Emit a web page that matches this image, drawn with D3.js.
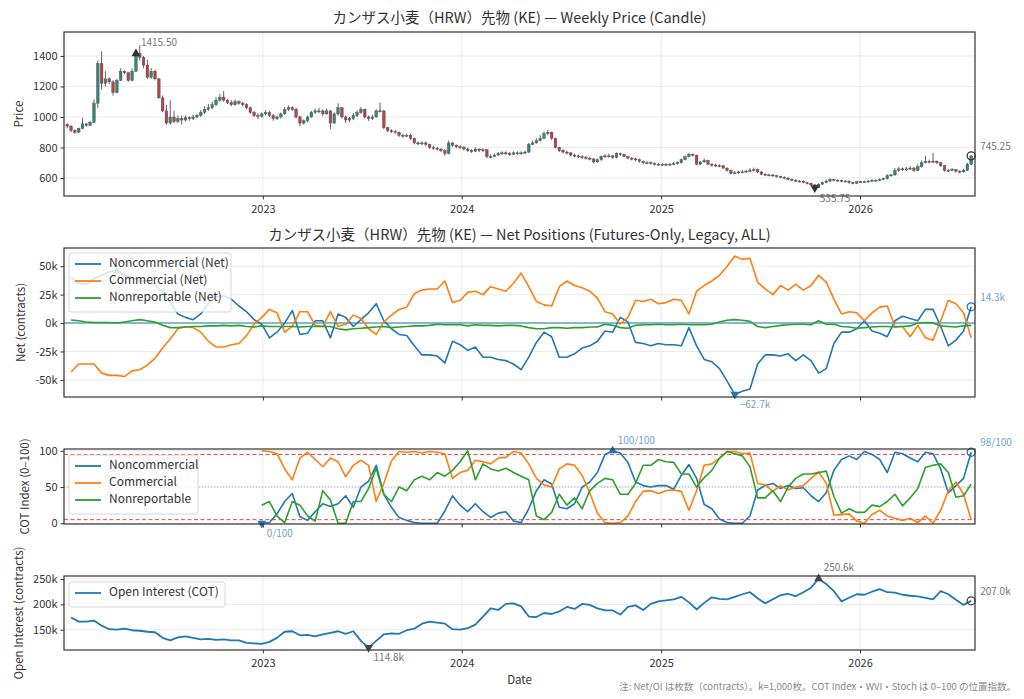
<!DOCTYPE html>
<html>
<head>
<meta charset="utf-8">
<script src="https://cdn.jsdelivr.net/npm/d3@7"></script>
<style>
  body { margin: 0; background: #fff; }
  svg text { font-family: "Noto Sans CJK JP", "Noto Sans", sans-serif; }
</style>
</head>
<body>
<svg id="chart" width="1024" height="699"></svg>
<script>
// weekly dates (COT week), 238 weeks from Jan 2022
const weekStart = new Date(2022, 0, 7);
const weekDates = d3.range(238).map(i => d3.timeDay.offset(weekStart, 7 * i));
// positions/OI read every second week
const cotDates = d3.range(1, 238, 2).map(i => weekDates[i]);
// COT index needs a year of history, starts Jan 2023
const idxDates = cotDates.slice(25);
const yearTicks = [2023, 2024, 2025, 2026].map(y => new Date(y, 0, 1));

const firstOpen = 950;
const closes = [
  940, 912, 900, 925, 955, 945, 965, 1090, 1350, 1220,
  1250, 1230, 1160, 1240, 1300, 1290, 1240, 1300, 1415.5, 1390,
  1340, 1260, 1300, 1250, 1125, 1040, 960, 1000, 970, 990,
  980, 995, 990, 1000, 1010, 1030, 1050, 1060, 1080, 1110,
  1130, 1110, 1095, 1080, 1100, 1090, 1080, 1060, 1030, 1010,
  1005, 1020, 1030, 1010, 990, 1000, 1020, 1050, 1060, 1050,
  1000, 960, 975, 1000, 1030, 1040, 1040, 1020, 1040, 960,
  1020, 1060, 1000, 980, 990, 1010, 1030, 1050, 1000, 990,
  1000, 1040, 1040, 930, 910, 905, 900, 880, 875, 880,
  860, 830, 825, 830, 820, 800, 795, 790, 780, 760,
  830, 815, 805, 800, 790, 780, 775, 790, 780, 785,
  740, 740, 750, 760, 765, 760, 755, 765, 760, 765,
  770, 820, 830, 845, 860, 890, 900, 860, 800, 780,
  770, 765, 750, 745, 740, 735, 730, 725, 705, 720,
  740, 745, 745, 735, 760, 755, 740, 730, 725, 720,
  710, 700, 700, 695, 690, 690, 685, 690, 690, 695,
  700, 720, 740, 755, 750, 690, 705, 715, 690, 685,
  680, 680, 665, 650, 630, 635, 640, 640, 645, 650,
  655, 640, 625, 620, 620, 615, 610, 605, 600, 590,
  585, 580, 580, 570, 565, 555, 535.75, 560, 570, 580,
  590, 585, 585, 580, 580, 570, 565, 575, 575, 575,
  580, 585, 585, 590, 595, 615, 620, 650, 660, 655,
  660, 665, 650, 675, 700, 710, 705, 710, 700, 680,
  650, 650, 655, 645, 640, 650, 690, 745.25
];
const highs = [
  960, 945, 920, 930, 995, 960, 975, 1115, 1370, 1430,
  1300, 1260, 1240, 1250, 1320, 1305, 1295, 1320, 1425, 1470,
  1400, 1375, 1320, 1310, 1255, 1140, 1080, 1110, 1040, 1010,
  1010, 1010, 1005, 1015, 1020, 1045, 1070, 1085, 1100, 1130,
  1150, 1170, 1120, 1110, 1115, 1110, 1100, 1090, 1070, 1040,
  1025, 1030, 1045, 1040, 1020, 1010, 1030, 1065, 1075, 1070,
  1060, 1010, 985, 1010, 1040, 1055, 1060, 1050, 1055, 1045,
  1030, 1090, 1065, 1010, 1000, 1025, 1045, 1065, 1055, 1010,
  1015, 1050, 1095, 1045, 935, 920, 915, 905, 890, 890,
  890, 865, 840, 840, 840, 825, 810, 805, 795, 790,
  845, 835, 820, 815, 810, 800, 790, 800, 795, 795,
  790, 755, 760, 770, 775, 775, 770, 775, 775, 775,
  780, 830, 845, 860, 880, 905, 915, 905, 865, 805,
  790, 780, 770, 760, 755, 750, 745, 740, 730, 728,
  748, 755, 760, 752, 768, 765, 760, 745, 738, 732,
  728, 715, 710, 708, 702, 700, 698, 700, 700, 705,
  708, 728, 748, 765, 762, 752, 712, 728, 720, 698,
  695, 690, 685, 670, 655, 645, 648, 650, 655, 665,
  668, 662, 645, 630, 628, 625, 620, 615, 612, 605,
  597, 592, 588, 585, 575, 570, 560, 565, 575, 590,
  598, 595, 592, 590, 588, 585, 575, 580, 582, 582,
  588, 592, 592, 598, 602, 625, 628, 665, 672, 668,
  672, 678, 672, 690, 715, 745, 720, 765, 715, 705,
  685, 660, 665, 660, 650, 660, 700, 752
];
const lows = [
  925, 900, 890, 895, 920, 935, 940, 960, 1060, 1180,
  1200, 1215, 1140, 1155, 1235, 1280, 1230, 1235, 1295, 1370,
  1320, 1250, 1250, 1240, 1120, 1030, 950, 950, 960, 960,
  950, 970, 975, 980, 990, 1000, 1020, 1040, 1050, 1070,
  1100, 1100, 1085, 1070, 1075, 1080, 1070, 1050, 1020, 1000,
  985, 995, 1010, 1000, 975, 980, 990, 1015, 1040, 1040,
  990, 940, 950, 965, 995, 1020, 1025, 1005, 1015, 920,
  955, 1010, 990, 960, 965, 980, 1000, 1020, 990, 975,
  980, 995, 1030, 920, 900, 895, 890, 870, 865, 868,
  850, 820, 815, 815, 810, 790, 785, 780, 770, 745,
  755, 805, 795, 790, 780, 770, 765, 770, 770, 770,
  730, 730, 735, 745, 750, 750, 745, 750, 750, 752,
  755, 765, 815, 825, 840, 855, 880, 850, 795, 770,
  762, 755, 740, 735, 730, 725, 720, 715, 695, 700,
  712, 732, 735, 725, 730, 745, 735, 722, 715, 710,
  700, 690, 690, 688, 682, 680, 678, 678, 682, 684,
  688, 695, 715, 735, 740, 685, 685, 700, 685, 675,
  672, 670, 660, 642, 622, 625, 628, 632, 635, 640,
  645, 632, 618, 612, 612, 608, 603, 598, 592, 585,
  578, 574, 572, 565, 558, 548, 530, 535, 555, 565,
  575, 578, 578, 572, 572, 562, 558, 560, 568, 568,
  570, 575, 578, 580, 585, 590, 610, 615, 640, 645,
  645, 652, 640, 645, 668, 695, 695, 700, 690, 672,
  642, 640, 645, 635, 630, 635, 645, 685
];

// net positions, thousands of contracts
const netNoncomm = [
  40, 35, 34, 39, 42, 45, 46, 42, 40, 37,
  37, 34, 27, 18, 8, 5, 3, 8, 17, 23,
  24, 21, 15, 10, 3, -1, -13, -8, 0, 11,
  -10, -9, 2, 2, -13, 8, 5, -3, 3, 9,
  17, 2, -5, -10, -11, -20, -28, -28, -29, -35,
  -16, -19, -24, -21, -30, -30, -32, -33, -36, -41,
  -30, -17, -8, -12, -30, -30, -27, -22, -20, -16,
  -7, -8, 5, 1, -17, -18, -20, -18, -19, -19,
  -20, -4, -20, -32, -34, -40, -51, -62.7, -60, -58,
  -36, -28, -28, -29, -27, -33, -28, -33, -44, -40,
  -18, -8, -8, -5, 2, -7, -9, -12, 2, 6,
  4, 2, 12, 12, -3, -20, -15, -7, 14.3
];
const netComm = [
  -43, -36, -36, -36, -44, -46, -46, -47, -42, -41,
  -37, -31, -22, -14, -5, -3, -4, -8, -16, -21,
  -21, -19, -18, -11, -1, 5, 12, 9, -8, -3,
  10, 10, -2, -3, 10, -3, -1, 7, 4, -5,
  -10, 1, 7, 12, 14, 26, 29, 30, 30, 37,
  18, 20, 27, 28, 25, 32, 30, 28, 35, 44,
  32, 19, 16, 15, 32, 37, 33, 31, 28, 22,
  10, 8, -1, 5, 20, 19, 21, 17, 18, 21,
  20, 8, 28, 33, 37, 42, 50, 59, 56, 57,
  36, 30, 25, 33, 29, 34, 29, 33, 42, 36,
  21, 8, 10, 9, 2, 9, 14, 15, -3, -3,
  -12, -2, -13, -15, 2, 20, 17, 9, -13
];
const netNonrep = [
  2.7, 2, 1, 0.5, 0.5, 0.5, 0, 1, 2, 3,
  2, 1, -2, -4, -4, -3.5, -3, -3, -2.5, -2.5,
  -2, -2.5, -2, -3, -3.5, -2.5, -3, -3, -3, -3,
  -3.5, -3, -3, -3, -3, -5, -6, -5, -4.5, -4,
  -3.5, -3, -4, -3.5, -3, -2.5, -2.5, -2, -1, -1.5,
  -1.5, -1.5, -2.5, -1.5, -2, -2, -2.5, -2, -2, -2.5,
  -4, -5, -5, -4, -4, -4.5, -4, -4, -3.5, -3.5,
  -1, -2, -4, -4.5, -2, -1.5, -1.5, -1, -1.5, -1.5,
  -1, -1.5, -1.5, -1.5, -1, 1, 2.5, 3, 2.5, 1.5,
  -3, -4, -3, -2, -1.5, -1, -1, -1.5, 2, -1,
  -1, -3, -3.5, -4.5, -4, -3.5, -3, -3, -3.5, -3,
  -2.5, 0, 0.5, 0, -2.5, -3, -3.5, -2.5, -2
];

// COT index 0-100 (from Jan 2023)
const idxNoncomm = [
  0, 1, 13, 30, 41, 9, 4, 16, 27, 23,
  27, 38, 22, 50, 58, 80, 40, 22, 8, 4,
  1, 0, 0, 0, 17, 38, 25, 16, 27, 16,
  8, 14, 16, 3, 1, 20, 45, 60, 54, 22,
  20, 27, 50, 57, 70, 95, 100, 97, 84, 57,
  52, 50, 52, 52, 47, 66, 81, 62, 26, 20,
  6, 1, 0, 0, 10, 46, 52, 55, 48, 52,
  48, 49, 38, 30, 42, 73, 88, 93, 88, 99,
  95, 88, 70, 98, 96, 90, 85, 98, 96, 75,
  42, 52, 62, 98
];
const idxComm = [
  100, 99, 96, 75, 60, 90, 98, 88, 78, 90,
  85, 64, 80, 87, 80, 30, 55, 86, 99, 98,
  99, 97, 99, 98, 96, 62, 70, 73, 87, 85,
  82, 90, 91, 99, 97, 82, 62, 53, 50, 75,
  82, 80, 66, 42, 14, 1, 0, 1, 10, 30,
  44, 45, 41, 45, 46, 44, 18, 45, 80, 82,
  90, 99, 99, 96, 97, 55, 53, 44, 52, 46,
  50, 52, 62, 71, 55, 11, 12, 13, 3, 0,
  12, 18, 10, 7, 4, 7, 1, 10, 0, 18,
  45, 57, 40, 5
];
const idxNonrep = [
  25, 30, 10, 1, 30, 25, 10, 3, 45, 32,
  0, 0, 30, 30, 48, 76, 40, 30, 50, 45,
  60, 65, 60, 70, 65, 73, 85, 100, 60, 82,
  75, 72, 76, 70, 65, 60, 10, 5, 15, 40,
  25, 35, 20, 45, 55, 62, 60, 40, 40, 55,
  80, 80, 88, 85, 84, 68, 68, 50, 63, 73,
  90, 99, 96, 93, 78, 35, 35, 45, 30, 50,
  62, 68, 68, 70, 72, 37, 14, 20, 15, 15,
  25, 23, 30, 40, 24, 35, 48, 77, 80, 82,
  70, 36, 38, 54
];

// open interest, thousands of contracts
const openInterest = [
  174, 166, 166, 168, 158, 151, 150, 152, 149, 148,
  146, 145, 134, 129, 135, 137, 134, 131, 132, 130,
  131, 129, 129, 124, 123, 122, 126, 134, 146, 147,
  139, 140, 137, 141, 144, 147, 142, 147, 128, 114.8,
  128, 141, 143, 142, 149, 152, 162, 166, 164, 162,
  151, 150, 153, 160, 176, 192, 189, 201, 202, 196,
  176, 175, 183, 181, 186, 195, 191, 201, 199, 192,
  188, 188, 180, 195, 198, 189, 201, 206, 208, 210,
  215, 204, 190, 203, 214, 211, 210, 215, 220, 224,
  212, 202, 210, 218, 221, 216, 224, 233, 250.6, 240,
  226, 206, 213, 220, 219, 225, 230, 224, 223, 219,
  217, 216, 213, 210, 226, 220, 209, 199, 207
];

const C = { blue: "#1f77b4", orange: "#ff7f0e", green: "#2ca02c",
            up: "#33857a", down: "#b24641", dark: "#333", grid: "#e6e6e6" };

const svg = d3.select("#chart");
const left = 64, right = 975;

const x = d3.scaleTime()
    .domain([new Date(2022, 0, 1), new Date(2026, 6, 31)])
    .range([left, right]);

function panel(top, bottom, yDomain, yTicks, fmt, xLabels) {
    const y = d3.scaleLinear().domain(yDomain).range([bottom, top]);
    const g = svg.append("g");

    g.append("g").selectAll("line").data(yTicks).join("line")
        .attr("x1", left).attr("x2", right)
        .attr("y1", d => y(d)).attr("y2", d => y(d))
        .attr("stroke", C.grid).attr("stroke-width", 0.8);
    g.append("g").selectAll("line").data(yearTicks).join("line")
        .attr("x1", d => x(d)).attr("x2", d => x(d))
        .attr("y1", top).attr("y2", bottom)
        .attr("stroke", C.grid).attr("stroke-width", 0.8);

    const ya = g.append("g")
        .attr("transform", "translate(" + left + ",0)")
        .call(d3.axisLeft(y).tickValues(yTicks).tickFormat(fmt).tickSize(3.5).tickPadding(3));
    const xa = g.append("g")
        .attr("transform", "translate(0," + bottom + ")")
        .call(d3.axisBottom(x).tickValues(yearTicks)
            .tickFormat(xLabels ? d3.timeFormat("%Y") : "").tickSize(3.5).tickPadding(6));
    [ya, xa].forEach(a => {
        a.select(".domain").remove();
        a.selectAll("line").attr("stroke", C.dark);
        a.selectAll("text").attr("fill", "#333").attr("font-size", 11);
    });

    const plot = svg.append("g");
    return { y, g, plot, top, bottom };
}

function frame(p) {
    svg.append("rect")
        .attr("x", left).attr("y", p.top)
        .attr("width", right - left).attr("height", p.bottom - p.top)
        .attr("fill", "none").attr("stroke", C.dark).attr("stroke-width", 1.2);
}

function yLabel(p, text, xPos) {
    svg.append("text")
        .attr("transform", "translate(" + xPos + "," + ((p.top + p.bottom) / 2) + ") rotate(-90)")
        .attr("text-anchor", "middle").attr("dominant-baseline", "middle")
        .attr("font-size", 11.5).attr("fill", "#333").text(text);
}

function title(yPos, text) {
    svg.append("text")
        .attr("x", (left + right) / 2).attr("y", yPos)
        .attr("text-anchor", "middle").attr("dominant-baseline", "middle")
        .attr("font-size", 14.5).attr("fill", "#333").text(text);
}

function annotate(g, px, py, label, kind, markColor, textColor) {
    if (kind === "last") {
        g.append("circle").attr("cx", px).attr("cy", py).attr("r", 4)
            .attr("fill", "none").attr("stroke", markColor).attr("stroke-width", 1.3);
    } else {
        g.append("path")
            .attr("d", d3.symbol(d3.symbolTriangle, 34)())
            .attr("transform", "translate(" + px + "," + py + ")" + (kind === "min" ? " rotate(180)" : ""))
            .attr("fill", markColor);
    }
    const off = { max: [5, -10], min: [5, 11], last: [9, -9] }[kind];
    g.append("text")
        .attr("x", px + off[0]).attr("y", py + off[1])
        .attr("dominant-baseline", "middle")
        .attr("font-size", 10).attr("fill", textColor).text(label);
}

function extremes(g, dates, vals, y, fmt, markColor, textColor) {
    const iMax = d3.maxIndex(vals), iMin = d3.minIndex(vals), iLast = vals.length - 1;
    annotate(g, x(dates[iMax]), y(vals[iMax]), fmt(vals[iMax]), "max", markColor, textColor);
    annotate(g, x(dates[iMin]), y(vals[iMin]), fmt(vals[iMin]), "min", markColor, textColor);
    annotate(g, x(dates[iLast]), y(vals[iLast]), fmt(vals[iLast]), "last", markColor, textColor);
}

function legend(x0, y0, w, items) {
    const h = items.length * 17 + 8;
    const lg = svg.append("g").attr("transform", "translate(" + x0 + "," + y0 + ")");
    lg.append("rect").attr("width", w).attr("height", h).attr("rx", 2.5)
        .attr("fill", "#fff").attr("fill-opacity", 0.8)
        .attr("stroke", "#ccc").attr("stroke-width", 0.8);
    items.forEach((it, i) => {
        const yy = 11 + i * 17;
        lg.append("line").attr("x1", 6).attr("x2", 32).attr("y1", yy).attr("y2", yy)
            .attr("stroke", it.color).attr("stroke-width", 1.8);
        lg.append("text").attr("x", 40).attr("y", yy).attr("dominant-baseline", "middle")
            .attr("font-size", 12).attr("fill", "#333").text(it.label);
    });
}

function drawLine(p, dates, vals, color, width) {
    p.plot.append("path")
        .datum(vals.map((v, i) => ({ date: dates[i], v })))
        .attr("fill", "none").attr("stroke", color).attr("stroke-width", width)
        .attr("stroke-linejoin", "round")
        .attr("d", d3.line().x(d => x(d.date)).y(d => p.y(d.v)));
}

const kfmt = v => v + "k";
const k1 = v => d3.format(".1f")(v) + "k";

// ---- price candles
const pPrice = panel(32, 196, [482, 1557], [600, 800, 1000, 1200, 1400], d3.format("d"), true);
const candles = closes.map((c, i) => ({
    date: weekDates[i], open: i ? closes[i - 1] : firstOpen, close: c, high: highs[i], low: lows[i]
}));
const cw = 2.7;
const cg = pPrice.plot.selectAll("g.candle").data(candles).join("g").attr("class", "candle");
cg.append("line")
    .attr("x1", d => x(d.date)).attr("x2", d => x(d.date))
    .attr("y1", d => pPrice.y(d.high)).attr("y2", d => pPrice.y(d.low))
    .attr("stroke", "#3a3a3a").attr("stroke-width", 0.8);
cg.append("rect")
    .attr("x", d => x(d.date) - cw / 2).attr("width", cw)
    .attr("y", d => pPrice.y(Math.max(d.open, d.close)))
    .attr("height", d => Math.max(1, Math.abs(pPrice.y(d.open) - pPrice.y(d.close))))
    .attr("fill", d => d.close >= d.open ? C.up : C.down)
    .attr("stroke", "#444").attr("stroke-width", 0.35);
extremes(pPrice.plot, weekDates, closes, pPrice.y, v => v.toFixed(2), C.dark, "#777");
frame(pPrice);
title(19, "カンザス小麦（HRW）先物 (KE) — Weekly Price (Candle)");
yLabel(pPrice, "Price", 20);

// ---- net positions
const pNet = panel(248, 397, [-65, 66], [-50, -25, 0, 25, 50], kfmt, false);
pNet.plot.append("line")
    .attr("x1", left).attr("x2", right).attr("y1", pNet.y(0)).attr("y2", pNet.y(0))
    .attr("stroke", C.blue).attr("stroke-width", 1.1);
drawLine(pNet, cotDates, netNoncomm, C.blue, 1.6);
drawLine(pNet, cotDates, netComm, C.orange, 1.6);
drawLine(pNet, cotDates, netNonrep, C.green, 1.6);
extremes(pNet.plot, cotDates, netNoncomm, pNet.y, k1, C.blue, "#6fa3cf");
legend(69, 253, 162, [
    { label: "Noncommercial (Net)", color: C.blue },
    { label: "Commercial (Net)", color: C.orange },
    { label: "Nonreportable (Net)", color: C.green }
]);
frame(pNet);
title(236, "カンザス小麦（HRW）先物 (KE) — Net Positions (Futures-Only, Legacy, ALL)");
yLabel(pNet, "Net (contracts)", 22);

// ---- COT index
const pIdx = panel(449, 524, [-1, 102.5], [0, 50, 100], d3.format("d"), false);
[95, 5].forEach(v => pIdx.plot.append("line")
    .attr("x1", left).attr("x2", right).attr("y1", pIdx.y(v)).attr("y2", pIdx.y(v))
    .attr("stroke", "#e0474c").attr("stroke-width", 1).attr("stroke-dasharray", "4,2.5"));
pIdx.plot.append("line")
    .attr("x1", left).attr("x2", right).attr("y1", pIdx.y(50)).attr("y2", pIdx.y(50))
    .attr("stroke", "#aaa").attr("stroke-width", 0.9).attr("stroke-dasharray", "1.2,1.8");
drawLine(pIdx, idxDates, idxNoncomm, C.blue, 1.6);
drawLine(pIdx, idxDates, idxComm, C.orange, 1.6);
drawLine(pIdx, idxDates, idxNonrep, C.green, 1.6);
extremes(pIdx.plot, idxDates, idxNoncomm, pIdx.y, v => Math.round(v) + "/100", C.blue, "#6fa3cf");
legend(69, 455, 129, [
    { label: "Noncommercial", color: C.blue },
    { label: "Commercial", color: C.orange },
    { label: "Nonreportable", color: C.green }
]);
frame(pIdx);
yLabel(pIdx, "COT Index (0–100)", 26);

// ---- open interest
const pOi = panel(576, 650, [110, 256], [150, 200, 250], kfmt, true);
drawLine(pOi, cotDates, openInterest, C.blue, 1.8);
extremes(pOi.plot, cotDates, openInterest, pOi.y, k1, "#444", "#777");
legend(69, 582, 156, [{ label: "Open Interest (COT)", color: C.blue }]);
frame(pOi);
yLabel(pOi, "Open Interest (contracts)", 20);

svg.append("text")
    .attr("x", (left + right) / 2).attr("y", 681)
    .attr("text-anchor", "middle").attr("dominant-baseline", "middle")
    .attr("font-size", 11.5).attr("fill", "#333").text("Date");

svg.append("text")
    .attr("x", 1016).attr("y", 687)
    .attr("text-anchor", "end").attr("dominant-baseline", "middle")
    .attr("font-size", 9.5).attr("fill", "#888")
    .text("注: Net/OI は枚数（contracts）。k=1,000枚。COT Index・WVI・Stoch は 0–100 の位置指数。");
</script>
</body>
</html>
